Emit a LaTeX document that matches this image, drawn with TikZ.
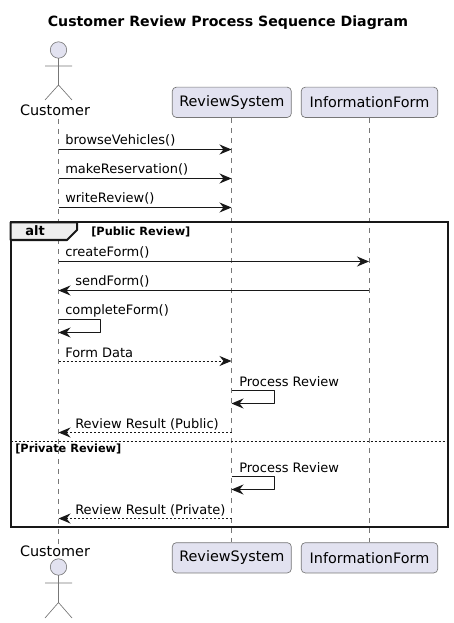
\documentclass[tikz,border=0pt]{standalone}
\usepackage{fontspec}
\setmainfont{DejaVu Sans}
\usetikzlibrary{arrows.meta}
\definecolor{partfill}{HTML}{E2E2F0}
\definecolor{partline}{HTML}{181818}
\definecolor{thinline}{HTML}{777777}
\definecolor{tabfill}{HTML}{EEEEEE}
\tikzset{
  part/.style={draw=thinline,fill=partfill,line width=0.5pt,rounded corners=3pt,minimum height=22.7pt,inner sep=0pt,font=\fontsize{10.8}{12}\selectfont},
  actorname/.style={inner sep=0pt,font=\fontsize{10.8}{12}\selectfont},
  stick/.style={draw=thinline,line width=0.5pt},
  lifeline/.style={draw=thinline,line width=0.5pt,dash pattern=on 3.75pt off 3.75pt},
  msg/.style={draw=partline,line width=0.75pt,-{Stealth[length=9pt,width=7.5pt,inset=3pt]}},
  msgdash/.style={msg,dash pattern=on 1.5pt off 1.5pt},
  lbl/.style={anchor=base west,inner sep=0pt,font=\fontsize{9.75}{11}\selectfont},
  cond/.style={anchor=base west,inner sep=0pt,font=\fontsize{8.5}{10}\bfseries\selectfont}
}
\begin{document}
\begin{tikzpicture}[line cap=butt,line join=round,x=0.75pt,y=-0.75pt]
        \useasboundingbox (0,0) rectangle (453,623);
        \node[inner sep=0pt,font=\fontsize{10.6}{12}\bfseries\selectfont] (title) at (228,23) {Customer Review Process Sequence Diagram};

        \node[actorname] (custTop) at (55,110) {Customer};
        \node[actorname] (custBot) at (55,551) {Customer};
        \node[part,minimum width=89.25pt] (revTop) at (231.8,102.3) {ReviewSystem};
        \node[part,minimum width=89.25pt] (revBot) at (231.8,557.8) {ReviewSystem};
        \node[part,minimum width=102.4pt] (formTop) at (369.5,102.3) {InformationForm};
        \node[part,minimum width=102.4pt] (formBot) at (369.5,557.8) {InformationForm};

        \coordinate (custA) at (58.5,119);
        \coordinate (custB) at (58.5,545);
        \draw[lifeline] (custA) -- (custB);
        \draw[lifeline] (231.5,0|-revTop.south) -- (231.5,0|-revBot.north);
        \draw[lifeline] (369.5,0|-formTop.south) -- (369.5,0|-formBot.north);

        \draw[stick,fill=partfill] (58.5,50) circle (8.2);
        \draw[stick] (58.5,58.2) -- (58.5,85) (45,66) -- (72,66) (45,100) -- (58.5,85) -- (72,100);
        \draw[stick,fill=partfill] (58.5,567) circle (8.2);
        \draw[stick] (58.5,575.2) -- (58.5,602.5) (45,583) -- (72,583) (45,618) -- (58.5,602.5) -- (72,618);

        \coordinate (c1) at (58.5,149.5);  \coordinate (r1) at (231.5,149.5);
        \coordinate (c2) at (58.5,178.5);  \coordinate (r2) at (231.5,178.5);
        \coordinate (c3) at (58.5,207.5);  \coordinate (r3) at (231.5,207.5);
        \coordinate (c4) at (58.5,261.5);  \coordinate (f4) at (369,261.5);
        \coordinate (c5) at (58.5,290.5);  \coordinate (f5) at (369,290.5);
        \coordinate (c6) at (58.5,319.5);  \coordinate (c6a) at (100.5,319.5);
        \coordinate (c6b) at (100.5,332.5);  \coordinate (c6c) at (58.5,332.5);
        \coordinate (c7) at (58.5,361);  \coordinate (r7) at (231.5,361);
        \coordinate (r8) at (231.5,390.5);  \coordinate (r8a) at (274.5,390.5);
        \coordinate (r8b) at (274.5,403.5);  \coordinate (r8c) at (231.5,403.5);
        \coordinate (r9) at (231.5,432.5);  \coordinate (c9) at (58.5,432.5);
        \coordinate (r10) at (231.5,476.5);  \coordinate (r10a) at (274.5,476.5);
        \coordinate (r10b) at (274.5,489.5);  \coordinate (r10c) at (231.5,489.5);
        \coordinate (r11) at (231.5,518.5);  \coordinate (c11) at (58.5,518.5);

        \draw[msg] (c1) -- (r1);
        \draw[msg] (c2) -- (r2);
        \draw[msg] (c3) -- (r3);
        \draw[msg] (c4) -- (f4);
        \draw[msg] (f5) -- (c5);
        \draw[msg] (c6) -- (c6a) -- (c6b) -- (c6c);
        \draw[msgdash] (c7) -- (r7);
        \draw[msg] (r8) -- (r8a) -- (r8b) -- (r8c);
        \draw[msgdash] (r9) -- (c9);
        \draw[msg] (r10) -- (r10a) -- (r10b) -- (r10c);
        \draw[msgdash] (r11) -- (c11);

        \node[lbl] (lblBrowse) at (65,145) {browseVehicles()};
        \node[lbl] (lblReserve) at (65,174) {makeReservation()};
        \node[lbl] (lblWrite) at (65,203) {writeReview()};
        \node[lbl] (lblCreate) at (65,256.5) {createForm()};
        \node[lbl] (lblSend) at (75,285.5) {sendForm()};
        \node[lbl] (lblComplete) at (65,314.5) {completeForm()};
        \node[lbl] (lblData) at (65,357) {Form Data};
        \node[lbl] (lblProcA) at (239,386) {Process Review};
        \node[lbl] (lblPublic) at (75,428) {Review Result (Public)};
        \node[lbl] (lblProcB) at (239,472) {Process Review};
        \node[lbl] (lblPrivate) at (75,514) {Review Result (Private)};

        \coordinate (frameA) at (10.5,222.5);
        \coordinate (frameB) at (447.5,526.5);
        \draw[partline,line width=1.5pt,line join=miter] (frameA) rectangle (frameB);
        \draw[partline,line width=1.5pt,fill=tabfill] (10.5,222.5) -- (77,222.5) -- (77,230) -- (67,240) -- (10.5,240) -- cycle;
        \draw[partline,line width=0.75pt,dash pattern=on 1.5pt off 1.5pt] (10.5,441) -- (447.5,441);
        \node[inner sep=0pt,font=\fontsize{9.75}{11}\bfseries\selectfont] (altName) at (35,231) {alt};
        \node[cond] (condPublic) at (91,235) {[Public Review]};
        \node[cond] (condPrivate) at (15,452) {[Private Review]};
      \end{tikzpicture}
\end{document}
